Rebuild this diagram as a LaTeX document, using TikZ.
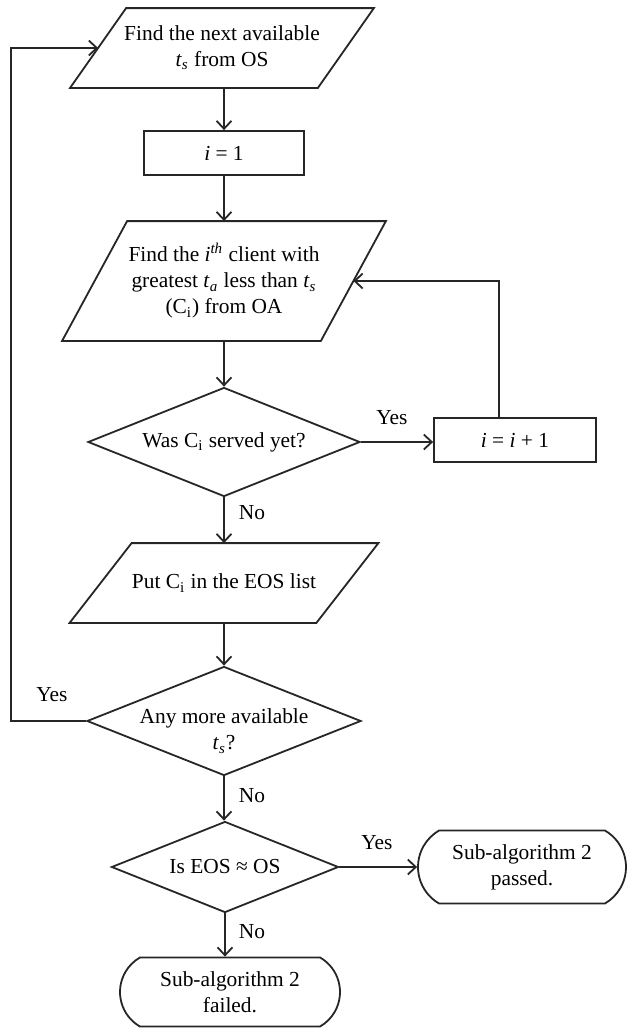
\documentclass[tikz,border=0pt]{standalone}
\usepackage{fontspec}
\setmainfont{Liberation Serif}
\usetikzlibrary{shapes.geometric,shapes.misc,arrows.meta}
\newcommand{\tvar}[1]{\textit{t}\textsubscript{\textit{#1}}}
\newcommand{\Ci}{C\textsubscript{i}}
% outline of an input/output block: the node is the mid-height rectangle,
% the outline leans right by twice the given shift
\newcommand{\slantbox}[2]{%
  \draw[ink] ([xshift=#2]#1.north west) -- ([xshift=#2]#1.north east)
    -- ([xshift=-#2]#1.south east) -- ([xshift=-#2]#1.south west) -- cycle;}
\begin{document}
\begin{tikzpicture}[x=0.5pt,y=-0.5pt,
  font=\fontsize{10.7pt}{13pt}\selectfont,
  line width=0.9pt,
  ink/.style={draw=black!85},
  io/.style={rectangle, align=center, inner sep=0pt},
  proc/.style={rectangle, ink, inner sep=0pt, minimum width=80pt, minimum height=22pt},
  dec/.style={diamond, ink, inner sep=0pt},
  term/.style={rounded rectangle, rounded rectangle arc length=120, ink, align=center, inner sep=0pt},
  arr/.style={draw=black!85, -{Straight Barb[length=4pt,width=7.5pt]}},
  lbl/.style={inner sep=0pt}]
\useasboundingbox (0,0) rectangle (627,1028);
\fill[white] (0,0) rectangle (627,1028);

% blocks
\node[io, minimum width=123pt, minimum height=39pt] (p1) at (222,48)
  {Find the next available\\ \tvar{s} from OS};
\slantbox{p1}{14pt}
\node[proc] (b1) at (224,153) {\textit{i} = 1};
\node[io, minimum width=128.5pt, minimum height=59pt] (p2) at (224,281)
  {Find the \textit{i}\textsuperscript{\textit{th}} client with\\ greatest \tvar{a} less than \tvar{s}\\ (\Ci) from OA};
\slantbox{p2}{16.25pt}
\node[dec, minimum width=136pt, minimum height=54.5pt,
      label={center:Was \Ci{} served yet?}] (d1) at (224,442) {};
\node[proc, minimum width=81pt] (b2) at (515,440) {\textit{i} = \textit{i} + 1};
\node[io, minimum width=122.5pt, minimum height=39pt] (p3) at (224,583)
  {Put \Ci{} in the EOS list};
\slantbox{p3}{15.5pt}
\node[dec, minimum width=137pt, minimum height=54.5pt,
      label={[align=center,yshift=-5pt]center:Any more available\\ \tvar{s}?}] (d2) at (224,721) {};
\node[dec, minimum width=113.5pt, minimum height=45.5pt,
      label={center:Is EOS ≈ OS}] (d3) at (225,867) {};
\node[term, minimum width=104pt, minimum height=36.5pt] (t1) at (522,867)
  {Sub-algorithm 2\\ passed.};
\node[term, minimum width=110pt, minimum height=34.5pt] (t2) at (230,992)
  {Sub-algorithm 2\\ failed.};

% branch labels
\node[lbl] (y1) at (392,418) {Yes};
\node[lbl] (n1) at (252,513) {No};
\node[lbl] (y2) at (52,695) {Yes};
\node[lbl] (n2) at (252,796) {No};
\node[lbl] (y3) at (377,843) {Yes};
\node[lbl] (n3) at (252,932) {No};

% connectors
\draw[arr] (b1.north |- p1.south) -- (b1.north);
\draw[arr] (b1.south) -- (b1.south |- p2.north);
\draw[arr] (p2.south) -- (d1.north);
\draw[arr] (d1.east) -- (d1.east -| b2.west);
\draw[arr] ([xshift=-8pt]b2.north) |- (p2.east);
\draw[arr] (d1.south) -- (p3.north);
\draw[arr] (p3.south) -- (d2.north);
\draw[arr] (d2.west) -- ++(-75,0) |- (p1.west);
\draw[arr] (d2.south) -- (d2.south |- d3.north);
\draw[arr] (d3.east) -- (t1.west);
\draw[arr] (d3.south) -- (d3.south |- t2.north);
\end{tikzpicture}
\end{document}
